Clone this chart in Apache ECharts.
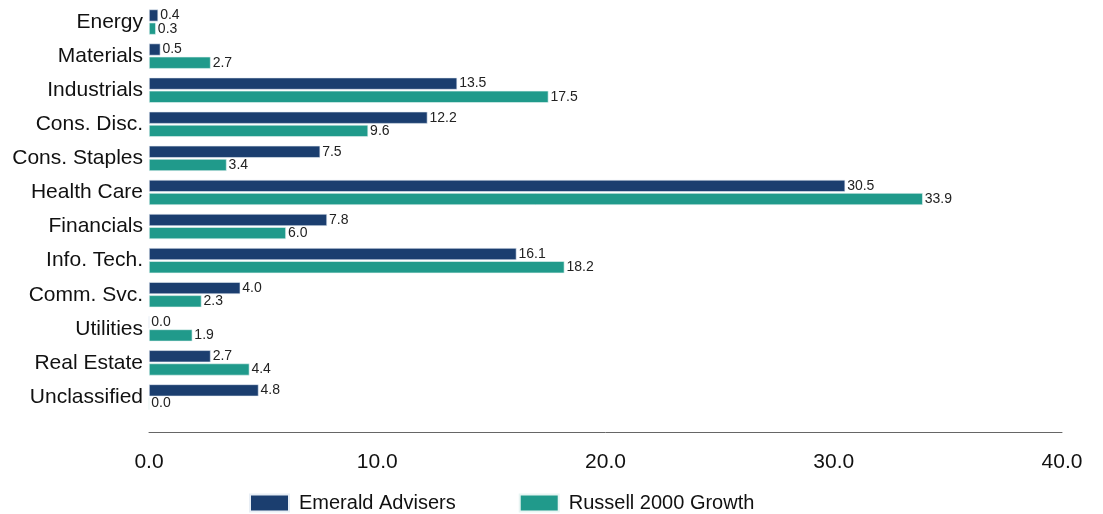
<!DOCTYPE html>
<html>
<head>
<meta charset="utf-8">
<script src="https://cdn.jsdelivr.net/npm/echarts@6/dist/echarts.min.js"></script>
<style>
html,body{margin:0;padding:0;background:#fff;}
#chart{width:1103px;height:514px;}
</style>
</head>
<body>
<div id="chart"></div>
<script>
const categories = ['Energy','Materials','Industrials','Cons. Disc.','Cons. Staples','Health Care','Financials','Info. Tech.','Comm. Svc.','Utilities','Real Estate','Unclassified'];
const emeraldValues = [0.4, 0.5, 13.5, 12.2, 7.5, 30.5, 7.8, 16.1, 4.0, 0.0, 2.7, 4.8];
const russellValues = [0.3, 2.7, 17.5, 9.6, 3.4, 33.9, 6.0, 18.2, 2.3, 1.9, 4.4, 0.0];
const seriesNames = ['Emerald Advisers', 'Russell 2000 Growth'];
const xTicks = [0, 10, 20, 30, 40];

const font = '"Liberation Sans", Arial, sans-serif';
const chart = echarts.init(document.getElementById('chart'));
const labelCfg = {
  show: true, position: 'right', distance: 2,
  fontFamily: font, fontSize: 14, color: '#222',
  formatter: p => p.value.toFixed(1)
};
chart.setOption({
  animation: false,
  grid: {left: 149, right: 41, top: 5, bottom: 100, containLabel: false, outerBoundsMode: 'none'},
  legend: {
    top: 488, left: 244, itemWidth: 39, itemHeight: 17, itemGap: 63,
    textStyle: {fontFamily: font, fontSize: 20, color: '#111', padding: [0, 0, 0, 5]},
    icon: 'rect',
    data: seriesNames
  },
  xAxis: {
    type: 'value', min: xTicks[0], max: xTicks[xTicks.length - 1], interval: 10,
    offset: 18,
    axisLine: {show: true, lineStyle: {color: '#666', width: 1}},
    axisTick: {show: false},
    splitLine: {show: false},
    axisLabel: {margin: 20, fontFamily: font, fontSize: 21, color: '#111', formatter: v => v.toFixed(1)}
  },
  yAxis: {
    type: 'category', data: categories, inverse: true,
    axisLine: {show: false}, axisTick: {show: false},
    axisLabel: {margin: 6, fontFamily: font, fontSize: 21, color: '#111'}
  },
  series: [
    {name: seriesNames[0], type: 'bar', data: emeraldValues, barWidth: 12, barGap: '10%',
     itemStyle: {color: '#1b3e6f', borderColor: '#e8eef5', borderWidth: 0.6}, label: labelCfg},
    {name: seriesNames[1], type: 'bar', data: russellValues, barWidth: 12, barGap: '10%',
     itemStyle: {color: '#209a8b', borderColor: '#e8f5f3', borderWidth: 0.6}, label: labelCfg}
  ]
});
</script>
</body>
</html>
